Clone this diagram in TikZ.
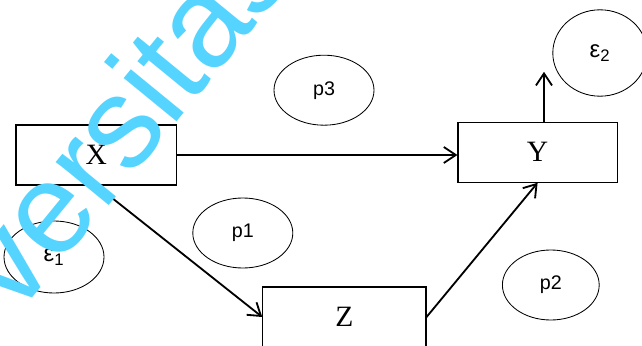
\documentclass[tikz,border=0pt]{standalone}
\usepackage{fontspec}
\setmainfont{Liberation Serif}
\newfontfamily\lblfont{Liberation Sans}
\usepackage{tikz}
\usetikzlibrary{arrows.meta, shapes.geometric}
\definecolor{wmcyan}{RGB}{84,212,255}

\begin{document}
\begin{tikzpicture}[>={Straight Barb[length=3mm, width=4mm]},
  var/.style={draw, line width=0.8pt, inner sep=0pt,
    minimum height=1.5cm, font=\fontsize{21}{21}\selectfont},
  blob/.style={draw, ellipse, line width=0.6pt, inner sep=0pt,
    font=\lblfont\fontsize{14}{14}\selectfont},
  link/.style={->, line width=1.3pt}]
  \useasboundingbox (0,0) rectangle (16.05,8.625);
  \clip (0,0) rectangle (16.05,8.625);
  % observed variables
  \node[var, minimum width=4.02cm] (X) at (2.41,4.75) {X};
  \node[var, minimum width=3.98cm] (Y) at (13.44,4.82) {Y};
  \node[var, minimum width=4.08cm] (Z) at (8.61,0.7) {Z};
  % error terms and path labels
  \node[blob, minimum width=2.5cm, minimum height=1.8cm, font=\lblfont\fontsize{17}{17}\selectfont] (e1) at (1.35,2.2) {ε\textsubscript{1}};
  \node[blob, minimum width=2.36cm, minimum height=2.16cm, font=\lblfont\fontsize{17}{17}\selectfont] (e2) at (15.0,7.3) {ε\textsubscript{2}};
  \node[blob, minimum width=2.5cm, minimum height=1.75cm] (p3) at (8.1,6.37) {p3};
  \node[blob, minimum width=2.5cm, minimum height=1.75cm] (p1) at (6.07,2.8) {p1};
  \node[blob, minimum width=2.42cm, minimum height=1.75cm] (p2) at (13.77,1.5) {p2};
  % paths
  \coordinate (e2in) at (13.6,6.83);
  \draw[link] (X.east) -- (X.east -| Y.west);
  \draw[link] (X.south) -- (Z.west);
  \draw[link] (Z.east) -- (Y.south);
  \draw[link] ([xshift=0.16cm]Y.north) -- (e2in);
  % watermark
  \node[wmcyan, rotate=50.7, font=\lblfont\fontsize{92}{92}\selectfont] (wm) at (3.05,5.72) {versitas};
\end{tikzpicture}
\end{document}
